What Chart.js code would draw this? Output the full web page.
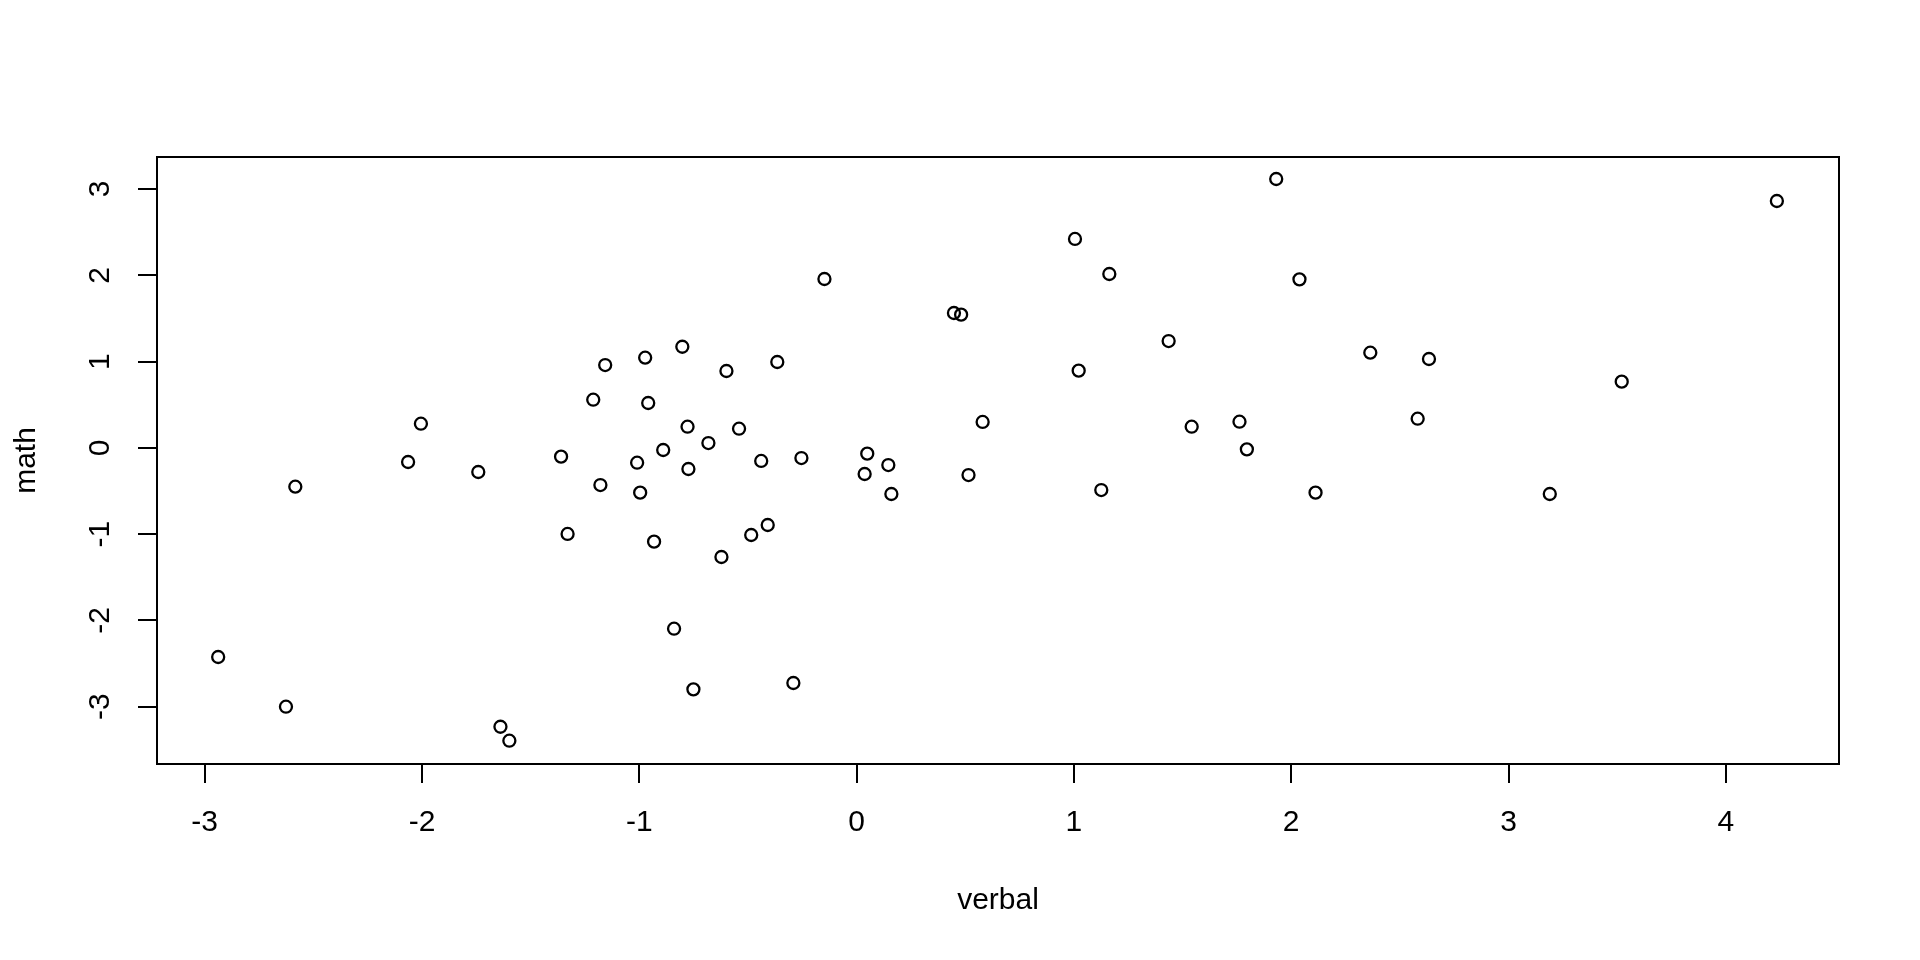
<!DOCTYPE html>
<html>
<head>
<meta charset="utf-8">
<script src="https://cdn.jsdelivr.net/npm/chart.js@4/dist/chart.umd.min.js"></script>
<style>
  body { margin: 0; background: #fff; }
  canvas { display: block; }
</style>
</head>
<body>
<canvas id="scatter-chart" width="1920" height="960"></canvas>
<script>
// values
const verbal = [
  -0.802, -0.973, -1.157, -1.212, -0.959, -0.778, -0.890, -2.005, -2.064, -1.741,
  -1.360, -1.179, -1.010, -0.774, -0.996, -2.583, -1.330, -0.932, -0.840, -0.751,
  -2.938, -2.626, -1.639, -1.598, 1.005, 1.163, -0.148, 0.448, 0.481, 1.436,
  1.022, -0.365, -0.599, -0.541, -0.682, 0.580, 1.542, 1.762, 1.796, -0.439,
  -0.254, 0.049, 0.146, 0.037, 0.515, 0.160, 1.126, -0.409, -0.485, -0.622,
  -0.291, 1.931, 4.235, 2.038, 2.364, 2.634, 3.521, 2.582, 2.112, 3.190
];
const math = [
  1.172, 1.045, 0.960, 0.558, 0.520, 0.245, -0.025, 0.280, -0.164, -0.280,
  -0.102, -0.431, -0.172, -0.245, -0.519, -0.450, -0.998, -1.087, -2.096, -2.799,
  -2.424, -3.000, -3.232, -3.394, 2.421, 2.015, 1.957, 1.563, 1.544, 1.238,
  0.895, 0.995, 0.891, 0.222, 0.056, 0.300, 0.245, 0.303, -0.017, -0.152,
  -0.118, -0.067, -0.199, -0.303, -0.315, -0.535, -0.489, -0.894, -1.010, -1.265,
  -2.725, 3.116, 2.861, 1.953, 1.103, 1.030, 0.767, 0.338, -0.519, -0.535
];
const xTicks = [-3, -2, -1, 0, 1, 2, 3, 4];
const xTickLabels = ['-3', '-2', '-1', '0', '1', '2', '3', '4'];
const yTicks = [-3, -2, -1, 0, 1, 2, 3];
const yTickLabels = ['-3', '-2', '-1', '0', '1', '2', '3'];

const font = { family: '"Liberation Sans", Arial, sans-serif', size: 30 };

// R style frame around the plot region
const boxPlugin = {
    id: 'box',
    afterDraw(chart) {
        const { ctx, chartArea: a } = chart;
        ctx.save();
        ctx.strokeStyle = '#000';
        ctx.lineWidth = 2;
        ctx.strokeRect(a.left, a.top, a.right - a.left, a.bottom - a.top);
        ctx.restore();
    }
};

const points = verbal.map((v, i) => ({ x: v, y: math[i] }));

new Chart(document.getElementById('scatter-chart'), {
    type: 'scatter',
    data: {
        datasets: [{
            data: points,
            pointStyle: 'circle',
            pointRadius: 6,
            pointHoverRadius: 6,
            borderWidth: 2.3,
            borderColor: '#000',
            backgroundColor: 'rgba(0,0,0,0)'
        }]
    },
    options: {
        responsive: false,
        animation: false,
        layout: { padding: { top: 157, right: 81, bottom: 0, left: 0 } },
        plugins: { legend: { display: false }, tooltip: { enabled: false } },
        scales: {
            x: {
                type: 'linear',
                position: 'bottom',
                min: -3.2195,
                max: 4.5209,
                afterBuildTicks: scale => { scale.ticks = xTicks.map(v => ({ value: v })); },
                afterFit: scale => { scale.height = 196; },
                border: { display: false },
                grid: { drawOnChartArea: false, tickLength: 19, color: '#000', lineWidth: 2 },
                ticks: {
                    color: '#000', font: font, padding: 21.5,
                    maxRotation: 0, autoSkip: false,
                    callback: (value, index) => xTickLabels[index]
                },
                title: { display: true, text: 'verbal', color: '#000', font: font, padding: { bottom: 41.5 } }
            },
            y: {
                type: 'linear',
                position: 'left',
                min: -3.664,
                max: 3.371,
                afterBuildTicks: scale => { scale.ticks = yTicks.map(v => ({ value: v })); },
                afterFit: scale => { scale.width = 157; },
                border: { display: false },
                grid: { drawOnChartArea: false, tickLength: 19, color: '#000', lineWidth: 2 },
                ticks: {
                    color: '#000', font: font, padding: 24,
                    minRotation: 90, maxRotation: 90, crossAlign: 'center', autoSkip: false,
                    callback: (value, index) => yTickLabels[index]
                },
                title: { display: true, text: 'math', color: '#000', font: font, padding: { top: 8.3 } }
            }
        }
    },
    plugins: [boxPlugin]
});
</script>
</body>
</html>
